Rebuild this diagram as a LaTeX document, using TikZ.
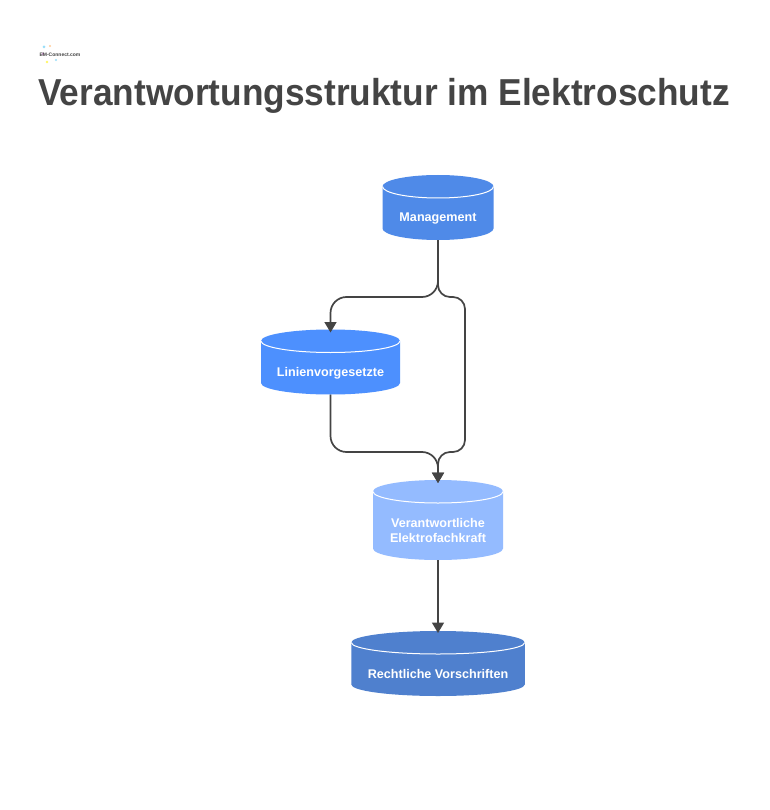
\documentclass[tikz,border=0pt]{standalone}
\usepackage{fontspec}
\setmainfont{Liberation Sans}
\usetikzlibrary{arrows.meta}
\definecolor{cMgmt}{HTML}{4F8AE8}
\definecolor{cLine}{HTML}{4D90FE}
\definecolor{cResp}{HTML}{94BBFF}
\definecolor{cLaw}{HTML}{4F80CE}
\definecolor{cInk}{HTML}{444444}
\tikzset{
  cyltext/.style={text=white,font=\bfseries\fontsize{12.6}{15}\selectfont,align=center,inner sep=0pt},
  link/.style={draw=cInk,line width=1.7pt,rounded corners=16pt},
  arrowlink/.style={link,-{Triangle[length=10.5pt,width=12pt]}},
  titletext/.style={text=cInk,font=\bfseries\fontsize{37.5}{42}\selectfont,inner sep=0pt},
}
% name, cx, top, bottom, width, ry, colour, text
\newcommand{\cylshape}[8]{%
  \fill[#7] (#2-#5/2,#3+#6) arc[start angle=180,end angle=360,x radius=#5/2,y radius=#6]
     -- (#2+#5/2,#4-#6) arc[start angle=0,end angle=180,x radius=#5/2,y radius=#6] -- cycle;
  \draw[white,line width=1pt] (#2-#5/2,#3+#6) arc[start angle=180,end angle=0,x radius=#5/2,y radius=#6];
  \node[inner sep=0pt,outer sep=0pt,minimum width=#5 pt,minimum height=#4 pt-#3 pt] (#1) at (#2,{(#3+#4)/2}) {};
  \node[cyltext] (#1-t) at (#2,{(#3+2*#6+#4)/2-0.7}) {#8};
}
\begin{document}
\begin{tikzpicture}[x=1pt,y=-1pt]
\useasboundingbox (0,0) rectangle (769,810);
\fill[white] (0,0) rectangle (769,810);
% logo
\fill[cyan!40] (44,47) circle (1.5);
\fill[violet!40] (43,54) circle (1.5);
\fill[orange!40] (50,46) circle (1.2);
\fill[yellow!60] (47,62) circle (1.3);
\fill[cyan!40] (56,60) circle (1.2);
\node[inner sep=0pt,text=cInk,font=\bfseries\fontsize{5}{5}\selectfont] (logo) at (60,55) {EM-Connect.com};
\node[titletext,anchor=center,xscale=0.94] (title) at (384,96) {Verantwortungsstruktur im Elektroschutz};
\cylshape{mg}{438}{175}{240}{111}{11.5}{cMgmt}{Management}
\cylshape{ln}{330.5}{329.5}{394.5}{139}{11.5}{cLine}{Linienvorgesetzte}
\cylshape{rs}{438}{480}{560}{130}{11.5}{cResp}{Verantwortliche\\Elektrofachkraft}
\cylshape{lw}{438}{631}{696}{173.5}{11.5}{cLaw}{Rechtliche Vorschriften}
\coordinate (splitL) at (438,297);
\coordinate (splitR) at (465,297);
\coordinate (mergeL) at (330.5,452);
\coordinate (mergeR) at (465,452);
\coordinate (merge) at (438,452);
\draw[arrowlink] (mg.south) -- (splitL) -- (ln.north |- splitL) -- ([yshift=-3pt]ln.north);
\draw[arrowlink,rounded corners=12pt] (mg.south) -- (splitL) -- (splitR) -- (mergeR) -- (merge) -- ([yshift=-3pt]rs.north);
\draw[arrowlink] (ln.south) -- (mergeL) -- (merge) -- ([yshift=-3pt]rs.north);
\draw[arrowlink,rounded corners=0pt] (rs.south) -- ([yshift=-2pt]lw.north);
\end{tikzpicture}
\end{document}
